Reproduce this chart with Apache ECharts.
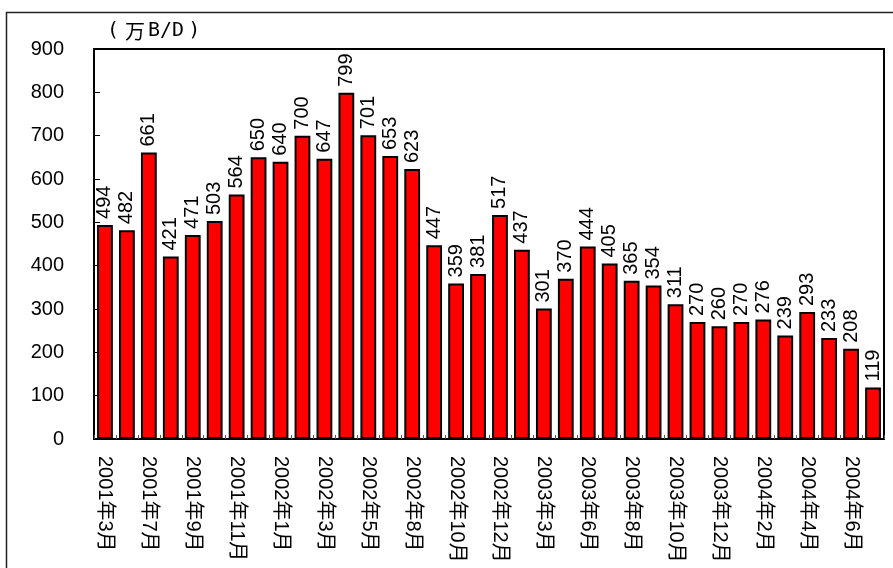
<!DOCTYPE html>
<html>
<head>
<meta charset="utf-8">
<script src="https://cdn.jsdelivr.net/npm/echarts@6/dist/echarts.min.js"></script>
<style>
  html, body { margin: 0; padding: 0; background: #fff; }
  #chart { width: 893px; height: 568px; }
</style>
</head>
<body>
<div id="chart"></div>
<script>
// Monthly volume, unit: 万B/D
const months = [
  '2001年3月', '2001年5月', '2001年7月', '2001年8月', '2001年9月', '2001年10月',
  '2001年11月', '2001年12月', '2002年1月', '2002年2月', '2002年3月', '2002年4月',
  '2002年5月', '2002年7月', '2002年8月', '2002年9月', '2002年10月', '2002年11月',
  '2002年12月', '2003年2月', '2003年3月', '2003年5月', '2003年6月', '2003年7月',
  '2003年8月', '2003年9月', '2003年10月', '2003年11月', '2003年12月', '2004年1月',
  '2004年2月', '2004年3月', '2004年4月', '2004年5月', '2004年6月', '2004年7月'
];
const volumes = [
  494, 482, 661, 421, 471, 503, 564, 650, 640, 700, 647, 799,
  701, 653, 623, 447, 359, 381, 517, 437, 301, 370, 444, 405,
  365, 354, 311, 270, 260, 270, 276, 239, 293, 233, 208, 119
];
const yTicks = { min: 0, max: 900, step: 100 };
// unit caption, split so the brackets keep their wide spacing
const unitText = '{lp|(}{w|万}{m|B/D}{rp|)}';

const latin = '"Liberation Sans", Arial, "Noto Sans CJK SC", sans-serif';
const mono = '"DejaVu Sans Mono", "Noto Sans CJK SC", monospace';

const chart = echarts.init(document.getElementById('chart'), null, { renderer: 'canvas' });
chart.setOption({
  animation: false,
  backgroundColor: '#fff',
  graphic: [
    {
      type: 'rect',
      shape: { x: 6.5, y: 12.5, width: 1000, height: 1000 },
      style: { fill: 'none', stroke: '#222', lineWidth: 1.5 },
      silent: true, z: 0
    },
    {
      type: 'text',
      left: 107, top: 21,
      style: {
        text: unitText,
        fill: '#000',
        rich: {
          lp: { fontSize: 20, fontFamily: mono, fill: '#000', padding: [0, 6, 0, 0] },
          w: { fontSize: 20, fontFamily: '"Noto Sans CJK SC", sans-serif', fill: '#000', padding: [0, 3, 0, 0] },
          m: { fontSize: 20, fontFamily: mono, fill: '#000' },
          rp: { fontSize: 20, fontFamily: mono, fill: '#000', padding: [0, 0, 0, 4] }
        }
      }
    }
  ],
  grid: {
    left: 94, top: 49, right: 9, bottom: 129,
    show: true, borderColor: '#000', borderWidth: 2,
    outerBoundsMode: 'none'
  },
  xAxis: {
    type: 'category',
    data: months,
    axisLine: { show: true, lineStyle: { color: '#000', width: 2 } },
    axisTick: {
      show: true, inside: true, length: 4, interval: 0,
      lineStyle: { color: '#555', width: 1 }
    },
    axisLabel: {
      interval: 1,
      rotate: -90,
      margin: 17,
      color: '#000',
      fontSize: 20,
      fontFamily: latin
    },
    splitLine: { show: false }
  },
  yAxis: {
    type: 'value',
    min: yTicks.min, max: yTicks.max, interval: yTicks.step,
    axisLine: { show: true, lineStyle: { color: '#000', width: 2 } },
    axisTick: { show: true, inside: true, length: 6, lineStyle: { color: '#000', width: 1 } },
    axisLabel: { margin: 30, color: '#000', fontSize: 20, fontFamily: latin },
    splitLine: { show: false }
  },
  series: [{
    type: 'bar',
    data: volumes,
    barWidth: '72%',
    itemStyle: { color: '#ff0000', borderColor: '#000', borderWidth: 2 },
    label: {
      show: true,
      position: 'top',
      rotate: 90,
      align: 'left',
      verticalAlign: 'middle',
      distance: 6,
      color: '#000',
      fontSize: 20,
      fontFamily: latin
    }
  }]
});
</script>
</body>
</html>
